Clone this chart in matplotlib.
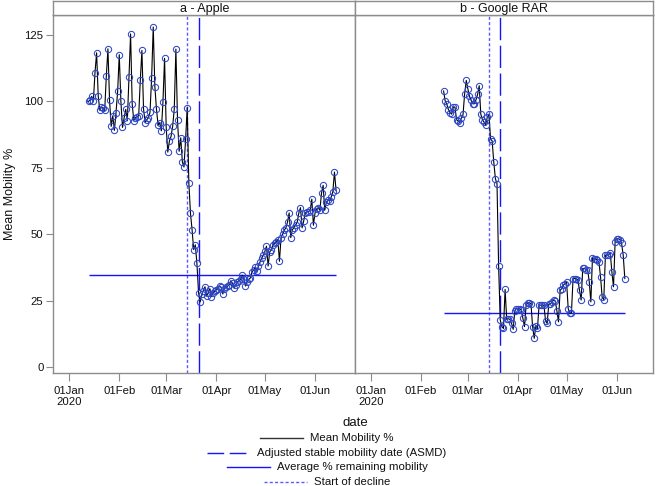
import matplotlib
matplotlib.use("Agg")
import matplotlib.pyplot as plt
import matplotlib.dates as mdates
from matplotlib.lines import Line2D
import pandas as pd

plt.rcParams['font.family'] = ['Liberation Sans', 'DejaVu Sans']

# ---------------- data ----------------
apple_start = "2020-01-13"
apple_values = [
    100, 100.6, 101.9, 100.1, 110.8, 118.3, 102,
    96.6, 97.9, 97.6, 96.6, 109.5, 119.8, 100.4,
    90.6, 94.6, 89.1, 95.8, 103.8, 117.6, 100,
    90.2, 93.8, 97, 92.7, 109.2, 125.4, 98.9,
    92.8, 93.9, 94.1, 94.5, 107.9, 119.2, 97.2,
    92, 93.1, 93.8, 95.9, 108.8, 128, 105.5,
    97.1, 91, 92, 88.9, 99.8, 116.2, 90.3,
    80.9, 85.1, 86.8, 90.6, 97.2, 119.7, 93.1,
    81.2, 86.3, 77.2, 75.3, 85.7, 97.7, 69.4,
    58, 51.7, 44.2, 46, 39, 28, 24.5,
    27.3, 28.7, 30.2, 26.7, 28, 29.5,
    26.5, 28, 28.5, 29, 29.5, 30.5, 30,
    27.5, 29.5, 30, 30.5, 31, 32.5, 31.5,
    29.6, 31, 32, 32.5, 33, 34.6, 33,
    30.5, 32, 33, 33.5, 35.8, 36.5, 37.5,
    36, 38, 39.5, 41, 42, 43.5, 45.5,
    38, 43.4, 44, 45.9, 46.5, 47, 48,
    39.8, 48.7, 50, 51.5, 52.5, 54.6, 58,
    48.7, 51.7, 52.5, 53.4, 54.6, 58, 60,
    52.4, 55, 58, 58.5, 58.5, 59, 63.2,
    53.4, 58, 59.5, 60, 59, 65.5, 68.4,
    59, 62, 63, 62.5, 64, 66, 73.4,
    66.5,
]

google_start = "2020-02-15"
google_values = [
    103.9, 100.1, 98.9, 96.9, 95.7, 95.2, 97.9, 97.9, 93.1, 92.6, 91.9, 93.8,
    95.1, 102.9, 107.9, 104.7, 101.9, 100.4, 99.1, 99.1, 100.6, 102.6, 105.9,
    95.1, 93.1, 92.2, 91, 94.1, 95.1, 85.9, 85.1, 77.2, 70.9, 69, 38, 17.7,
    15.2, 14.5,
    29.2, 17.9, 18.2, 17.9, 16.4, 14.2, 21.2, 22, 22, 22, 21.4, 18.3, 15.2,
    23.3, 24.2, 24.2, 23.8, 15.2, 10.8, 15.4, 14.5, 23.3, 23.3, 23.3, 23.3,
    17.4, 16.4, 23.7, 23.7, 24.5, 25.2, 24.8, 21.2, 17, 28.9, 29.5, 30.8,
    31.4, 32.0, 22, 20.2, 20.5, 33.3, 33.3, 33.3, 32.7, 28.9, 25.2, 37.1,
    37.1, 36.7, 36.7, 32.1, 24.5, 41.2, 40.7, 40.8, 40.2, 39.5, 33.9, 26.2,
    25.4, 42.1, 42.1, 42.3, 43, 35.8, 30.2, 47.1, 48.3, 48.3, 48, 46.5, 42.1,
    33.3,
]

panel_titles = ["a - Apple", "b - Google RAR"]
decline_dates = ["2020-03-14", "2020-03-14"]
asmd_dates = ["2020-03-21", "2020-03-21"]
avg_remaining = [34.8, 20.4]

tick_dates = ["2020-01-01", "2020-02-01", "2020-03-01", "2020-04-01", "2020-05-01", "2020-06-01"]
tick_labels = ["01Jan\n2020", "01Feb", "01Mar", "01Apr", "01May", "01Jun"]
y_ticks = [0, 25, 50, 75, 100, 125]

legend_labels = ["Mean Mobility %", "Adjusted stable mobility date (ASMD)",
                 "Average % remaining mobility", "Start of decline"]

# ---------------- layout ----------------
W, H = 657, 486
fig = plt.figure(figsize=(W / 100, H / 100), dpi=100)

def fx(p):
    return p / W

def fy(p):
    return 1 - p / H

GRAY = "#8c8c8c"
BLUE = "#1414ff"
DOT_BLUE = "#5a5aff"
MARK = "#2c46c8"
TXT = "#111111"

plot_top, plot_bot = 15, 373
panels_px = [(53.2, 355.3, 69.1), (355.3, 652.5, 370.8)]
ppd = 1.618
y0_px, ppu = 367.0, (367 - 35) / 125.0
ylim = (-(plot_bot - y0_px) / ppu, (y0_px - plot_top) / ppu)

base = mdates.date2num(pd.Timestamp("2020-01-01"))
series = [
    (pd.date_range(apple_start, periods=len(apple_values), freq="D"), apple_values),
    (pd.date_range(google_start, periods=len(google_values), freq="D"), google_values),
]

for i, ((l, r, p0), (dates, vals)) in enumerate(zip(panels_px, series)):
    ax = fig.add_axes([fx(l), fy(plot_bot), fx(r) - fx(l), (plot_bot - plot_top) / H])
    ax.set_xlim(base + (l - p0) / ppd, base + (r - p0) / ppd)
    ax.set_ylim(*ylim)

    ax.axvline(pd.Timestamp(decline_dates[i]), color=DOT_BLUE, lw=1.0,
               linestyle=(0, (2.2, 1.6)), zorder=2)
    ax.axvline(pd.Timestamp(asmd_dates[i]), color=BLUE, lw=1.0,
               linestyle=(0, (16, 4)), zorder=2)
    ax.hlines(avg_remaining[i], dates[0], dates[-1], color=BLUE, lw=1.0, zorder=2)

    ax.plot(dates, vals, color="black", lw=0.8, zorder=3)
    ax.plot(dates, vals, linestyle="none", marker="o", ms=4.5, mfc="none",
            mec=MARK, mew=0.75, zorder=4)

    ax.set_xticks([mdates.date2num(pd.Timestamp(d)) for d in tick_dates])
    ax.set_xticklabels(tick_labels, fontsize=8.2, color=TXT, linespacing=1.2)
    ax.tick_params(axis="x", direction="out", length=6, width=0.8, color=GRAY, pad=3)
    if i == 0:
        ax.set_yticks(y_ticks)
        ax.set_yticklabels([str(t) for t in y_ticks], fontsize=8.2, color=TXT)
        ax.tick_params(axis="y", direction="out", length=5, width=0.8, color=GRAY, pad=2)
    else:
        ax.set_yticks([])
    for s in ax.spines.values():
        s.set_color(GRAY)
        s.set_linewidth(1.0)

    sax = fig.add_axes([fx(l), fy(plot_top), fx(r) - fx(l), (plot_top - 1) / H])
    sax.set_xticks([])
    sax.set_yticks([])
    for s in sax.spines.values():
        s.set_color(GRAY)
        s.set_linewidth(1.0)
    sax.text(0.5, 0.45, panel_titles[i], ha="center", va="center",
             fontsize=9, color=TXT, transform=sax.transAxes)

fig.text(fx(10), fy((plot_top + plot_bot) / 2), "Mean Mobility %", rotation=90,
         ha="center", va="center", fontsize=9, color=TXT)
fig.text(fx(355), fy(423), "date", ha="center", va="center", fontsize=9.5, color=TXT)

# legend rows, each centered
styles = [
    dict(color="#333333", lw=1.0, linestyle="-"),
    dict(color=BLUE, lw=1.0, linestyle=(0, (12, 4))),
    dict(color=BLUE, lw=1.0, linestyle="-"),
    dict(color=DOT_BLUE, lw=1.0, linestyle=(0, (2.2, 1.6))),
]
rows_y = [438.3, 452.7, 467.3, 481.7]
fig.canvas.draw()
renderer = fig.canvas.get_renderer()
center = 327
hlen, gap = 43, 7
for lab, st, yy in zip(legend_labels, styles, rows_y):
    t = fig.text(0, fy(yy), lab, ha="left", va="center", fontsize=8.2, color=TXT)
    tw = t.get_window_extent(renderer=renderer).width
    total = hlen + gap + tw
    left = center - total / 2
    t.set_x(fx(left + hlen + gap))
    fig.add_artist(Line2D([fx(left), fx(left + hlen)], [fy(yy), fy(yy)],
                          transform=fig.transFigure, **st))

fig.savefig("out.png", dpi=100)
